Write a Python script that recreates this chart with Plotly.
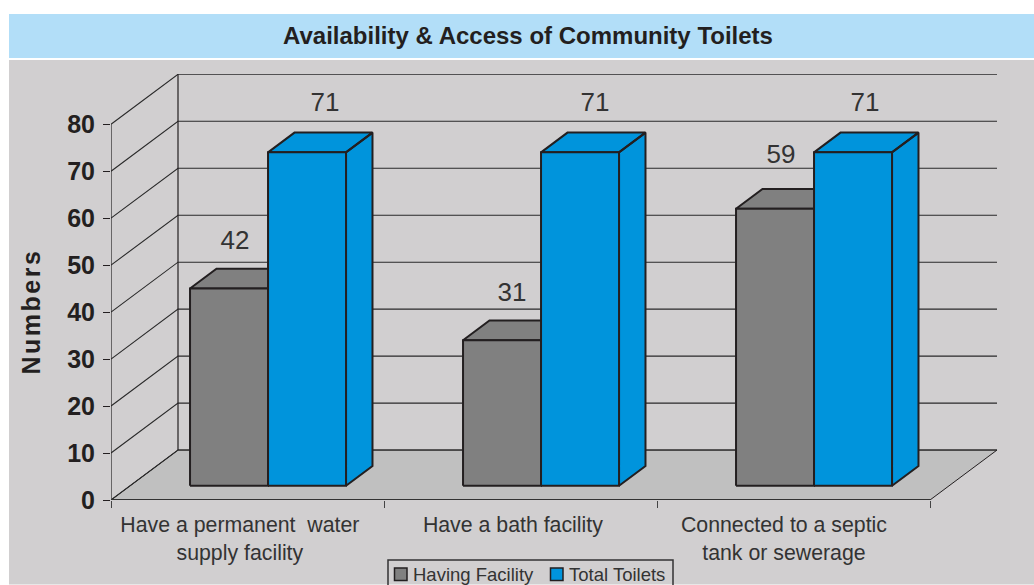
import plotly.graph_objects as go

categories = ["Have a permanent  water<br>supply facility", "Have a bath facility", "Connected to a septic<br>tank or sewerage"]
having_facility = [42, 31, 59]
total_toilets = [71, 71, 71]
y_ticks = [0, 10, 20, 30, 40, 50, 60, 70, 80]
series_names = ["Having Facility", "Total Toilets"]

W, H = 1034, 585
L, R, T, B = 111, 997, 74, 500.5      # plot box in pixels
CAT_PX = (930 - 111) / 3
UNIT_PX = (500.5 - 124.3) / 80
DEPTH_X = 67 / CAT_PX                 # oblique depth offset, axis units
DEPTH_Y = 50 / UNIT_PX
BAR_W = 78 / CAT_PX
GAP = 60 / CAT_PX
Z0, Z1 = 0.284, 0.284 + 0.395         # bar front and back depth, fraction of floor depth
INK = "#231f20"
GREY, BLUE = "#808080", "#0094dc"
# small per-label placement nudges in pixels (dx, dy up)
NUDGE = [[(6, 46), (10, 46), (6, 52)], [(18, 48), (15, 48), (12, 48)]]
LABEL_SHIFT = [0.472, 0.472, 0.465]   # category label centres within each category


def pt(x, y, z):
    return x + z * DEPTH_X, y + z * DEPTH_Y


def poly(*corners):
    pts = [pt(*c) for c in corners]
    pts.append(pts[0])
    return [p[0] for p in pts], [p[1] for p in pts]


def multi(polys):
    xs, ys = [], []
    for px, py in polys:
        xs += px + [None]
        ys += py + [None]
    return xs, ys


def shape_trace(polys, fill, name=None, lw=2):
    xs, ys = multi(polys)
    return go.Scatter(x=xs, y=ys, mode="lines", fill="toself", fillcolor=fill,
                      line=dict(color=INK, width=lw), name=name, showlegend=False,
                      hoverinfo="skip")


def line_trace(xs, ys, color=INK, width=1):
    return go.Scatter(x=xs, y=ys, mode="lines", line=dict(color=color, width=width),
                      showlegend=False, hoverinfo="skip")


fig = go.Figure()

# floor
fx, fy = poly((0, 0, 0), (3, 0, 0), (3, 0, 1), (0, 0, 1))
fig.add_trace(go.Scatter(x=fx, y=fy, mode="lines", fill="toself", fillcolor="#c0c0c0",
                         line=dict(color=INK, width=1), showlegend=False, hoverinfo="skip"))

# walls and gridlines
gx, gy = [], []
for v in y_ticks:
    a, b, c = pt(0, v, 0), pt(0, v, 1), pt(3, v, 1)
    gx += [a[0], b[0], c[0], None]
    gy += [a[1], b[1], c[1], None]
fig.add_trace(line_trace(gx, gy, "#2a2a2a", 1.1))
vx, vy = [], []
for z in (0, 1):
    a, b = pt(0, 0, z), pt(0, y_ticks[-1], z)
    vx += [a[0], b[0], None]
    vy += [a[1], b[1], None]
fig.add_trace(line_trace(vx, vy, INK, 1.2))

# bars
for series, offset, colour, name in [(having_facility, 0, GREY, series_names[0]),
                                     (total_toilets, 1, BLUE, series_names[1])]:
    fronts, others = [], []
    for i, v in enumerate(series):
        x0 = i + GAP + offset * BAR_W
        x1 = x0 + BAR_W
        fronts.append(poly((x0, 0, Z0), (x1, 0, Z0), (x1, v, Z0), (x0, v, Z0)))
        others.append(poly((x1, 0, Z0), (x1, 0, Z1), (x1, v, Z1), (x1, v, Z0)))
        others.append(poly((x0, v, Z0), (x1, v, Z0), (x1, v, Z1), (x0, v, Z1)))
    fig.add_trace(shape_trace(others, colour))
    fig.add_trace(shape_trace(fronts, colour, name))

# front axis line, drawn on top of the floor
fig.add_trace(line_trace([0, 3], [0, 0], "#333333", 2.2))

# value labels
lx, ly, lt = [], [], []
for s, (series, offset) in enumerate([(having_facility, 0), (total_toilets, 1)]):
    for i, v in enumerate(series):
        ndx, ndy = NUDGE[s][i]
        lx.append(i + GAP + (offset + 0.5) * BAR_W + Z0 * DEPTH_X + ndx / CAT_PX)
        ly.append(v + Z0 * DEPTH_Y + ndy / UNIT_PX)
        lt.append(str(v))
fig.add_trace(go.Scatter(x=lx, y=ly, text=lt, mode="text", showlegend=False, hoverinfo="skip",
                         textposition="middle center",
                         textfont=dict(family="Liberation Sans", size=26, color="#333333")))


def paper_x(px):
    return (px - L) / (R - L)


def paper_y(py):
    return (B - py) / (B - T)


def rect(x0, x1, y0, y1, fill, line_width=0, line_color=INK, layer="below"):
    return dict(type="rect", xref="paper", yref="paper", layer=layer, fillcolor=fill,
                line=dict(width=line_width, color=line_color),
                x0=paper_x(x0), x1=paper_x(x1), y0=paper_y(y1), y1=paper_y(y0))


def legend_text(text, px):
    return dict(text=text, x=paper_x(px), y=paper_y(575.5), xref="paper", yref="paper",
                xanchor="left", yanchor="middle", showarrow=False, align="left",
                font=dict(size=18.5, color="#333333"))


fig.update_layout(
    width=W, height=H,
    margin=dict(l=L, r=W - R, t=T, b=H - B, autoexpand=False),
    paper_bgcolor="white", plot_bgcolor="rgba(0,0,0,0)", showlegend=False,
    font=dict(family="Liberation Sans", color=INK),
    xaxis=dict(range=[0, (R - L) / CAT_PX], tickmode="array",
               tickvals=[i + s for i, s in enumerate(LABEL_SHIFT)], ticktext=categories,
               ticks="", showgrid=False, zeroline=False, showline=False,
               ticklabelstandoff=10,
               tickfont=dict(size=21.3, color="#333333"),
               minor=dict(tickmode="array", tickvals=[0, 1, 2, 3], ticks="outside",
                          ticklen=7, tickwidth=1.2, tickcolor="#444444", showgrid=False)),
    yaxis=dict(range=[0, (B - T) / UNIT_PX], tickmode="array", tickvals=y_ticks,
               ticks="outside", ticklen=7, tickwidth=1.2, tickcolor=INK,
               showgrid=False, zeroline=False, showline=False, ticklabelstandoff=3,
               tickfont=dict(size=25, color=INK, weight="bold")),
    title=dict(text="<b>Availability & Access of Community Toilets</b>", x=528 / W, xanchor="center",
               y=1 - 36 / H, yanchor="middle",
               font=dict(family="Liberation Sans", size=24, color=INK)),
    annotations=[
        dict(text="<b>Numbers</b>", textangle=-90, x=paper_x(31), y=paper_y(312),
             xref="paper", yref="paper", xanchor="center", yanchor="middle", showarrow=False,
             font=dict(size=25, color=INK)),
        legend_text(series_names[0], 410.5),
        legend_text(series_names[1], 567),
    ],
    shapes=[
        rect(9, W, 60, H, "#d1cfd0"),
        rect(9, W, 14, 58, "#b2def8"),
        rect(388, 673, 560.5, H + 5, "rgba(0,0,0,0)", 1.5, "#333333", "above"),
        rect(394.5, 407, 568.5, 581, GREY, 1.5, INK, "above"),
        rect(550.5, 563, 568.5, 581, BLUE, 1.5, INK, "above"),
    ],
)

post = """
document.body.style.margin='0';document.body.style.overflow='hidden';
document.querySelectorAll('.annotation-text').forEach(function(t){
  if(t.textContent==='Numbers'){t.style.letterSpacing='2.5px';}
});
"""
fig.write_html("out.html", config={"displayModeBar": False}, post_script=post)
